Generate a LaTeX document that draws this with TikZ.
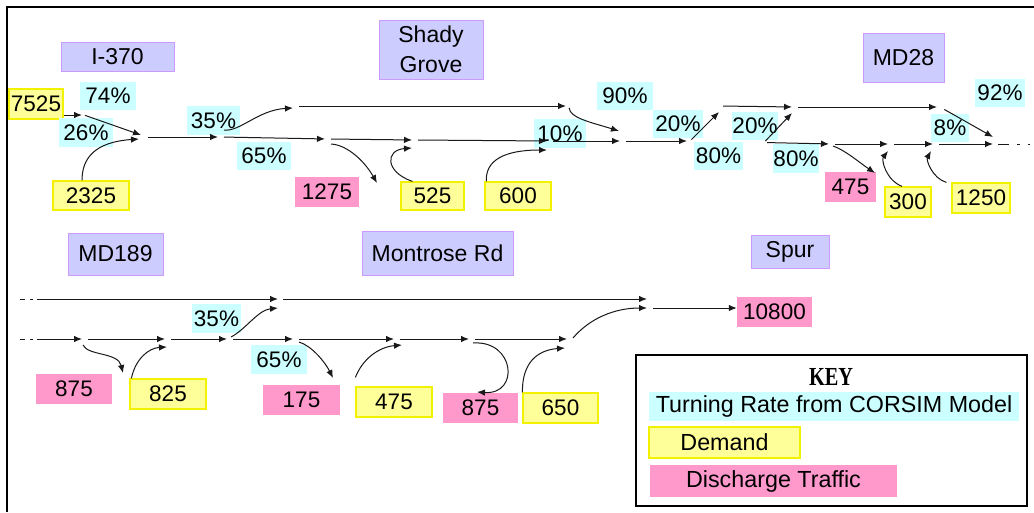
\documentclass[tikz,border=0pt]{standalone}
\usepackage{fontspec}
\usepackage{graphicx}
\setmainfont{Liberation Sans}
\newfontfamily\keyfont{Liberation Serif}
\usetikzlibrary{arrows.meta}
\pgfdeclarelayer{under}
\pgfsetlayers{under,main}
\definecolor{roadfill}{HTML}{CCCCFF}
\definecolor{roadline}{HTML}{CC99FF}
\definecolor{demfill}{HTML}{FFFF99}
\definecolor{demline}{HTML}{F2F200}
\definecolor{disfill}{HTML}{FF99CC}
\definecolor{ratefill}{HTML}{CCFFFF}
\tikzset{
  lbl/.style={inner sep=0pt, font=\fontsize{22.5}{30}\selectfont, align=center},
  road/.style={lbl, fill=roadfill, draw=roadline, line width=1pt, font=\fontsize{23}{30}\selectfont},
  demand/.style={lbl, fill=demfill, draw=demline, line width=1.2pt},
  dis/.style={lbl, fill=disfill},
  rate/.style={lbl, fill=ratefill},
  sz/.style 2 args={minimum width=#1pt, minimum height=#2pt},
  flow/.style={line width=1pt, draw=black!90, -{Latex[length=8pt,width=6.5pt]}},
  lane/.style={flow, shorten <=3pt, shorten >=3pt},
  plain/.style={line width=1pt, draw=black!90},
}
\begin{document}
\begin{tikzpicture}[x=1pt, y=-1pt]
\useasboundingbox (0,0) rectangle (1034,512);
\fill[white] (0,0) rectangle (1034,512);

% outer frame (left and top edges)
\coordinate (fr0) at (7,7);
\coordinate (fr1) at (7,512);
\coordinate (fr2) at (1034,7);
\draw[line width=2.6pt] (fr1) -- (fr0) -- (fr2);

% ---------------- upper network: I-370 / Shady Grove / MD28
\node[road, sz={113}{29}] (i370) at (117.5,56.5) {I-370};
\node[road, sz={104}{59}] (shady) at (431,49.5) {Shady\\Grove};
\node[road, sz={81}{49}] (md28) at (903.5,57.5) {MD28};

\node[demand, sz={54}{30}] (d7525) at (36,104) {7525};
\node[rate, sz={56}{28}] (r74) at (108,96) {74\%};
\node[rate, sz={54}{29}] (r26) at (86,132.5) {26\%};
\node[rate, sz={53}{29}] (r35a) at (213.5,120.5) {35\%};
\node[rate, sz={54}{28}] (r65a) at (264,156) {65\%};
\node[demand, sz={76}{29}] (d2325) at (91,195.5) {2325};
\node[dis, sz={64}{30}] (q1275) at (327,192) {1275};
\node[demand, sz={63}{28}] (d525) at (432.5,196) {525};
\node[demand, sz={66}{28}] (d600) at (518,196) {600};
\node[rate, sz={52}{29}] (r10) at (560,133.5) {10\%};
\node[rate, sz={56}{28}] (r90) at (625,96) {90\%};
\node[rate, sz={50}{28}] (r20a) at (678,124) {20\%};
\node[rate, sz={49}{28}] (r80a) at (718.5,156) {80\%};
\node[rate, sz={46}{28}] (r20b) at (755,126) {20\%};
\node[rate, sz={46}{29}] (r80b) at (796,158.5) {80\%};
\node[dis, sz={51}{30}] (q475) at (850.5,187) {475};
\node[demand, sz={46}{30}] (d300) at (908,202) {300};
\node[demand, sz={58}{30}] (d1250) at (981,198) {1250};
\node[rate, sz={38}{28}] (r8) at (950,128) {8\%};
\node[rate, sz={50}{28}] (r92) at (1000,93) {92\%};

% junctions, upper through lane
\coordinate (a0) at (84,115);
\coordinate (k74) at (136,105);
\coordinate (A1) at (296,106);
\coordinate (A1t) at (293,104);
\coordinate (A1b) at (293,108);
\coordinate (A2) at (569,106);
\coordinate (A3) at (720,106);
\coordinate (A3b) at (719,112);
\coordinate (A4) at (795,107);
\coordinate (A4b) at (792,113);
\coordinate (A5) at (940,107);
\coordinate (A6) at (1034,106);
% junctions, upper local lane
\coordinate (B1) at (145,137);
\coordinate (B1a) at (141,135);
\coordinate (B1b) at (139,139);
\coordinate (B2) at (221,137);
\coordinate (B2u) at (224,130);
\coordinate (B3) at (328,139);
\coordinate (B3d) at (331,144);
\coordinate (E1275) at (377,183);
\coordinate (B4) at (415,140);
\coordinate (B4a) at (412,148);
\coordinate (B5) at (550,141);
\coordinate (B5a) at (547,150);
\coordinate (B6) at (623,141);
\coordinate (B6a) at (619,131);
\coordinate (B7) at (690,141);
\coordinate (B8) at (764,142.5);
\coordinate (B9) at (832,144);
\coordinate (B9d) at (833,146);
\coordinate (E475) at (875,173);
\coordinate (B10) at (891,144);
\coordinate (B10a) at (888,151);
\coordinate (B11) at (936,144);
\coordinate (B11a) at (931,151);
\coordinate (B12) at (996,144);
\coordinate (B12a) at (993,137);
\coordinate (B13) at (1034,144);

\begin{pgfonlayer}{under}
  \draw[flow] (a0) .. controls (95,109) and (108,105) .. (k74) -- (A1t);
  \draw[lane] (A2) -- (A3);
  \draw[plain, shorten <=18pt, dash pattern=on 66pt off 4pt on 2pt off 20pt] (A5) -- (A6);
  \draw[lane] (B7) -- (B8);
\end{pgfonlayer}

\draw[flow, shorten >=2pt] (d7525.east |- a0) -- (a0);
\draw[flow, shorten <=1pt] (a0) -- (B1a);
\draw[flow] ([xshift=-9pt]d2325.north) .. controls (82,158) and (95,142) .. (B1b);
\draw[lane] (A1) -- (A2);
\draw[lane] (A3) -- (A4);
\draw[lane] (A4) -- (A5);
\draw[lane] (B1) -- (B2);
\draw[flow] (B2u) .. controls (240,132) and (258,110) .. (A1b);
\draw[lane] (B2) -- (B3);
\draw[flow] (B3d) .. controls (348,145) and (365,162) .. (E1275);
\draw[lane] (B3) -- (B4);
\draw[flow] ([xshift=12pt]d525.north west) .. controls (385,172) and (385,150) .. (B4a);
\draw[lane] (B4) -- (B5);
\draw[flow] ([xshift=2pt]d600.north west) .. controls (485,160) and (505,150) .. (B5a);
\draw[lane] (B5) -- (B6);
\draw[flow, shorten <=2pt] (A2) .. controls (570,118) and (590,122) .. (B6a);
\draw[lane] (B6) -- (B7);
\draw[flow, shorten <=2pt] (B7) -- (A3b);
\draw[flow, shorten <=2pt] (B8) -- (A4b);
\draw[lane] (B8) -- (B9);
\draw[flow] (B9d) .. controls (845,150) and (860,163) .. (E475);
\draw[lane] (B9) -- (B10);
\draw[flow] ([xshift=-6pt]d300.north) .. controls (886,180) and (881,160) .. (B10a);
\draw[lane] (B10) -- (B11);
\draw[flow] ([xshift=-5pt]d1250.north west) .. controls (932,178) and (926,160) .. (B11a);
\draw[lane] (B11) -- (B12);
\draw[flow, shorten <=5pt] (A5) -- (B12a);
\draw[plain, shorten <=2pt, dash pattern=on 11pt off 8pt on 3pt off 8pt on 2pt off 20pt] (B12) -- (B13);

% ---------------- lower network: MD189 / Montrose Rd / Spur
\node[road, sz={95}{42}] (md189) at (115.5,254) {MD189};
\node[road, sz={151}{44}] (montrose) at (437.5,253) {Montrose Rd};
\node[road, sz={78}{33}] (spur) at (790,251.5) {Spur};
\node[rate, sz={49}{29}] (r35b) at (216.5,318.5) {35\%};
\node[rate, sz={56}{29}] (r65b) at (279,359.5) {65\%};
\node[dis, sz={76}{30}] (q875a) at (74,389) {875};
\node[demand, sz={76}{30}] (d825) at (168,394) {825};
\node[dis, sz={77}{30}] (q175) at (301.5,400) {175};
\node[demand, sz={76}{30}] (d475) at (394,402) {475};
\node[dis, sz={75}{30}] (q875b) at (480.5,408) {875};
\node[demand, sz={75}{30}] (d650) at (560.5,408) {650};
\node[dis, sz={75}{30}] (q10800) at (774.5,312) {10800};

\coordinate (L0) at (20,299);
\coordinate (C1) at (281,299);
\coordinate (C1b) at (278,308);
\coordinate (C2t) at (647,299);
\coordinate (C2b) at (647,308);
\coordinate (C2o) at (653,308);
\coordinate (M0) at (20,339);
\coordinate (M1) at (85,339);
\coordinate (M1d) at (83,345);
\coordinate (E875a) at (123,373);
\coordinate (M2) at (168,339);
\coordinate (M2a) at (167,347);
\coordinate (M3) at (230,339);
\coordinate (M3u) at (231,337);
\coordinate (M4) at (296,339);
\coordinate (M4d) at (299,342);
\coordinate (E175) at (333,378);
\coordinate (M5) at (397,339);
\coordinate (M5a) at (402,345);
\coordinate (M6) at (472,339);
\coordinate (M6d) at (473,343);
\coordinate (E875b) at (477,392);
\coordinate (M7) at (570,339);
\coordinate (M7a) at (565,348);
\coordinate (M7u) at (573,338);

\draw[flow, shorten >=3pt, dash pattern=on 5pt off 5pt on 3pt off 4pt on 600pt] (L0) -- (C1);
\draw[flow, shorten <=2pt] (C1) -- (C2t);
\draw[flow] (C2o) -- (q10800.west |- C2o);
\draw[flow, shorten >=3pt, dash pattern=on 5pt off 5pt on 3pt off 4pt on 600pt] (M0) -- (M1);
\draw[flow] (M1d) .. controls (88,356) and (118,352) .. (E875a);
\draw[lane] (M1) -- (M2);
\draw[flow] ([xshift=2pt]d825.north west) .. controls (135,360) and (148,348) .. (M2a);
\draw[lane] (M2) -- (M3);
\draw[flow] (M3u) .. controls (245,330) and (258,310) .. (C1b);
\draw[lane] (M3) -- (M4);
\draw[flow] (M4d) .. controls (312,346) and (325,362) .. (E175);
\draw[lane] (M4) -- (M5);
\draw[flow] ([yshift=9pt]d475.north west) .. controls (362,360) and (378,347) .. (M5a);
\draw[lane] (M5) -- (M6);
\draw[flow] (M6d) .. controls (515,340) and (520,395) .. (E875b);
\draw[lane] (M6) -- (M7);
\draw[flow] (d650.north west) .. controls (522,362) and (538,350) .. (M7a);
\draw[flow] (M7u) .. controls (590,318) and (615,308) .. (C2b);

% ---------------- key
\node[draw, line width=2pt, sz={391}{151}] (keybox) at (831.5,430.5) {};
\node[inner sep=0pt] (keyttl) at (831,377) {\scalebox{0.78}[1]{\keyfont\bfseries\fontsize{26}{28}\selectfont KEY}};
\node[rate, sz={370}{29}, font=\fontsize{23.3}{28}\selectfont] (krate) at (834,406.5) {Turning Rate from CORSIM Model};
\node[demand, sz={151}{31}, font=\fontsize{23.3}{28}\selectfont] (kdem) at (724.5,442.5) {Demand};
\node[dis, sz={247}{32}, font=\fontsize{23.3}{28}\selectfont] (kdis) at (773.5,481) {Discharge Traffic};
\end{tikzpicture}
\end{document}
